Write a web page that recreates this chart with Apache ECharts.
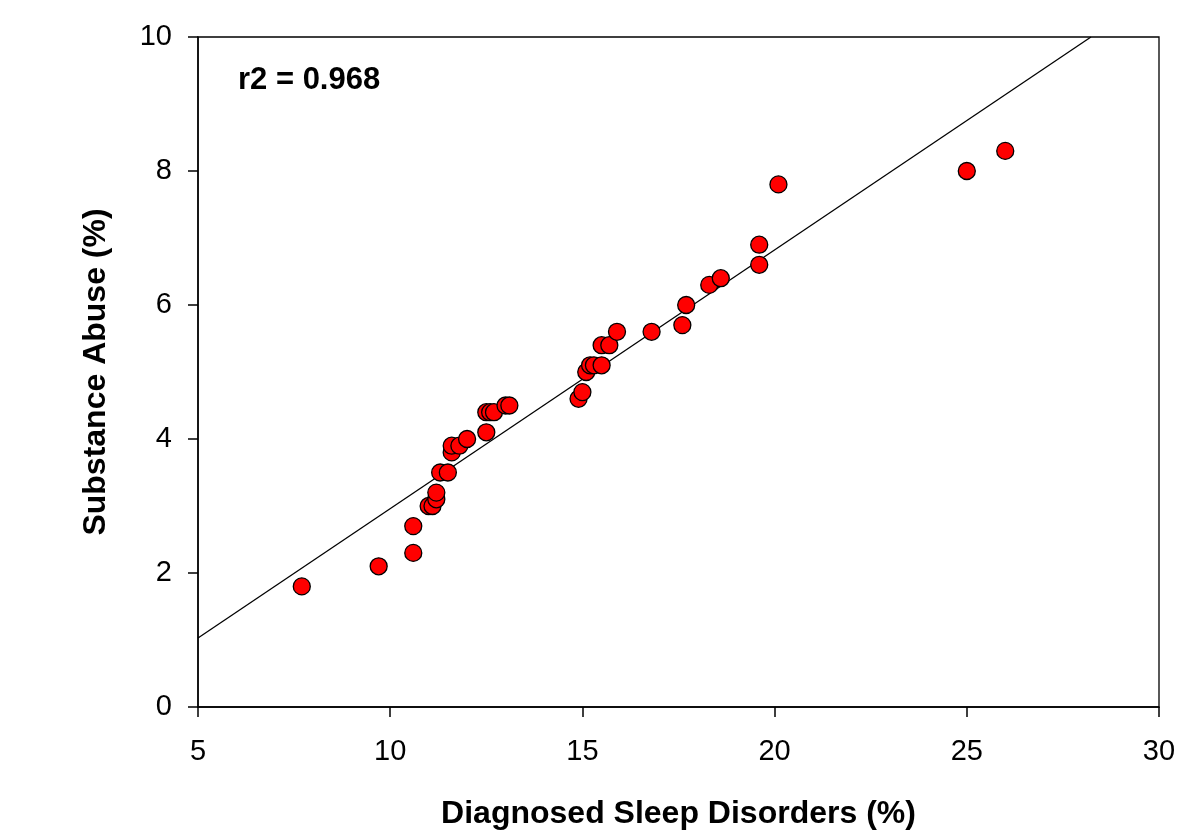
<!DOCTYPE html>
<html>
<head>
<meta charset="utf-8">
<script src="https://cdn.jsdelivr.net/npm/echarts@6/dist/echarts.min.js"></script>
<style>html,body{margin:0;padding:0;background:#fff}#c{width:1190px;height:835px}</style>
</head>
<body>
<div id="c"></div>
<script>
const sleepDisorders = [7.7, 9.7, 10.6, 10.6, 11.0, 11.1, 11.2, 11.2, 11.3, 11.5, 11.6, 11.6, 11.8, 12.0, 12.5, 12.5, 12.6, 12.7, 13.0, 13.1, 14.9, 15.0, 15.1, 15.2, 15.3, 15.5, 15.5, 15.7, 15.9, 16.8, 17.6, 17.7, 18.3, 18.6, 19.6, 19.6, 20.1, 25.0, 26.0];
const substanceAbuse = [1.8, 2.1, 2.3, 2.7, 3.0, 3.0, 3.1, 3.2, 3.5, 3.5, 3.8, 3.9, 3.9, 4.0, 4.1, 4.4, 4.4, 4.4, 4.5, 4.5, 4.6, 4.7, 5.0, 5.1, 5.1, 5.1, 5.4, 5.4, 5.6, 5.6, 5.7, 6.0, 6.3, 6.4, 6.6, 6.9, 7.8, 8.0, 8.3];
const fitX = [5, 28.23];
const fitY = [1.03, 10];
const xTicks = [5, 10, 15, 20, 25, 30];
const yTicks = [0, 2, 4, 6, 8, 10];
const r2Label = 'r2 = 0.968';

const points = sleepDisorders.map((x, i) => [x, substanceAbuse[i]]);
const fitLine = fitX.map((x, i) => [x, fitY[i]]);
const font = '"Liberation Sans", Arial, sans-serif';

const chart = echarts.init(document.getElementById('c'), null, {renderer: 'canvas'});
chart.setOption({
  animation: false,
  backgroundColor: '#ffffff',
  grid: {left: 198, right: 31, top: 37, bottom: 126, show: true, borderColor: '#000', borderWidth: 1.3, backgroundColor: 'transparent'},
  graphic: [{type: 'text', left: 238, top: 65, style: {text: r2Label, font: 'bold 31px "Liberation Sans", Arial, sans-serif', fill: '#000'}}],
  xAxis: {
    type: 'value', min: xTicks[0], max: xTicks[xTicks.length - 1], interval: 5,
    name: 'Diagnosed Sleep Disorders (%)', nameLocation: 'middle', nameGap: 91,
    nameTextStyle: {fontFamily: font, fontSize: 32, fontWeight: 'bold', color: '#000'},
    axisLine: {show: true, lineStyle: {color: '#000', width: 1.5}},
    axisTick: {show: true, inside: false, length: 10, lineStyle: {color: '#000', width: 1.5}},
    axisLabel: {fontFamily: font, fontSize: 29, color: '#000', margin: 30},
    splitLine: {show: false}
  },
  yAxis: {
    type: 'value', min: yTicks[0], max: yTicks[yTicks.length - 1], interval: 2,
    name: 'Substance Abuse (%)', nameLocation: 'middle', nameGap: 86,
    nameTextStyle: {fontFamily: font, fontSize: 32, fontWeight: 'bold', color: '#000'},
    axisLine: {show: true, lineStyle: {color: '#000', width: 1.5}},
    axisTick: {show: true, inside: false, length: 10, lineStyle: {color: '#000', width: 1.5}},
    axisLabel: {fontFamily: font, fontSize: 29, color: '#000', margin: 26},
    splitLine: {show: false}
  },
  series: [
    {type: 'line', data: fitLine, showSymbol: false, symbol: 'none', lineStyle: {color: '#000', width: 1.3}, silent: true, z: 2},
    {type: 'scatter', data: points, symbol: 'circle', symbolSize: 17, itemStyle: {color: '#ff0000', borderColor: '#000', borderWidth: 1.3, opacity: 1}, z: 3}
  ]
});
</script>
</body>
</html>
